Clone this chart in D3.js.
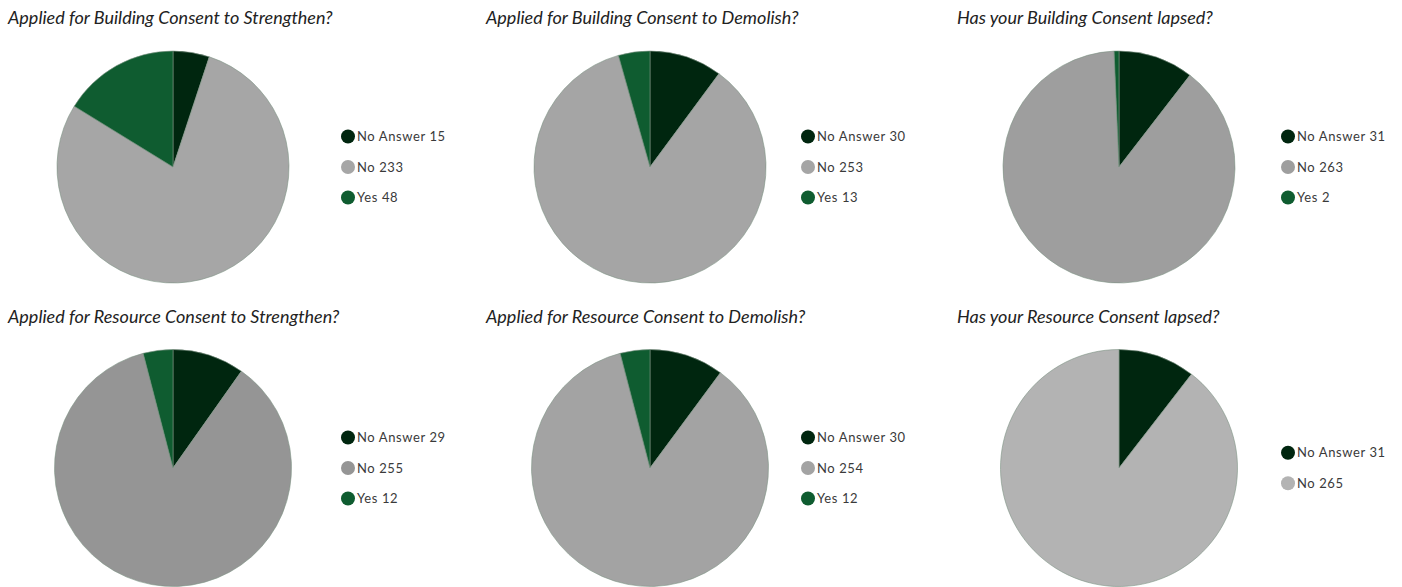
<!DOCTYPE html>
<html>
<head>
<meta charset="utf-8">
<script src="https://cdn.jsdelivr.net/npm/d3@7"></script>
<style>
  html, body { margin: 0; padding: 0; background: #fff; }
  svg { display: block; }
</style>
</head>
<body>
<svg id="chart" width="1402" height="587"></svg>
<script>
// ---- data ----
const titles = [
  "Applied for Building Consent to Strengthen?",
  "Applied for Building Consent to Demolish?",
  "Has your Building Consent lapsed?",
  "Applied for Resource Consent to Strengthen?",
  "Applied for Resource Consent to Demolish?",
  "Has your Resource Consent lapsed?"
];
const categories = ["No Answer", "No", "Yes"];
const noAnswerValues = [15, 30, 31, 29, 30, 31];
const noValues = [233, 253, 263, 255, 254, 265];
const yesValues = [48, 13, 2, 12, 12, null];
const noColors = ["#a6a6a6", "#a5a5a5", "#9e9e9e", "#959595", "#a3a3a3", "#b3b3b3"];
const noAnswerColor = "#00260f";
const yesColor = "#0f5c30";

// ---- layout ----
const svg = d3.select("#chart");
const colX = [173, 650, 1119];
const rowY = [167, 468];
const radii = [116, 118.5];
const titleX = [8, 486, 957];
const titleY = [24, 323];
const legendX = [348, 808, 1288];

const pie = d3.pie().sort(null).value(d => d.value);

titles.forEach((title, i) => {
  const col = i % 3, row = Math.floor(i / 3);
  const vals = [noAnswerValues[i], noValues[i], yesValues[i]];
  const data = categories.map((c, k) => ({
    cat: c, value: vals[k],
    color: k === 0 ? noAnswerColor : k === 1 ? noColors[i] : yesColor
  })).filter(d => d.value != null);

  svg.append("text")
    .attr("x", titleX[col]).attr("y", titleY[row])
    .attr("font-family", "Lato, 'Noto Sans', sans-serif")
    .attr("font-style", "italic")
    .attr("font-size", 18)
    .attr("fill", "#222")
    .text(title);

  const arc = d3.arc().innerRadius(0).outerRadius(radii[row]);
  const g = svg.append("g").attr("transform", `translate(${colX[col]},${rowY[row]})`);
  g.selectAll("path").data(pie(data)).join("path")
    .attr("d", arc)
    .attr("fill", d => d.data.color)
    .attr("stroke", "#7d9384")
    .attr("stroke-width", 0.6);

  const lg = svg.append("g");
  const step = 30.5;
  const y0 = rowY[row] - (data.length - 1) * step / 2;
  data.forEach((d, k) => {
    const y = y0 + k * step;
    lg.append("circle").attr("cx", legendX[col]).attr("cy", y).attr("r", 7)
      .attr("fill", d.color);
    lg.append("text")
      .attr("x", legendX[col] + 9).attr("y", y + 4.5)
      .attr("font-family", "Lato, 'Noto Sans', sans-serif")
      .attr("font-size", 13)
      .attr("letter-spacing", 0.6)
      .attr("fill", "#3a3a3a")
      .text(`${d.cat} ${d.value}`);
  });
});
</script>
</body>
</html>
